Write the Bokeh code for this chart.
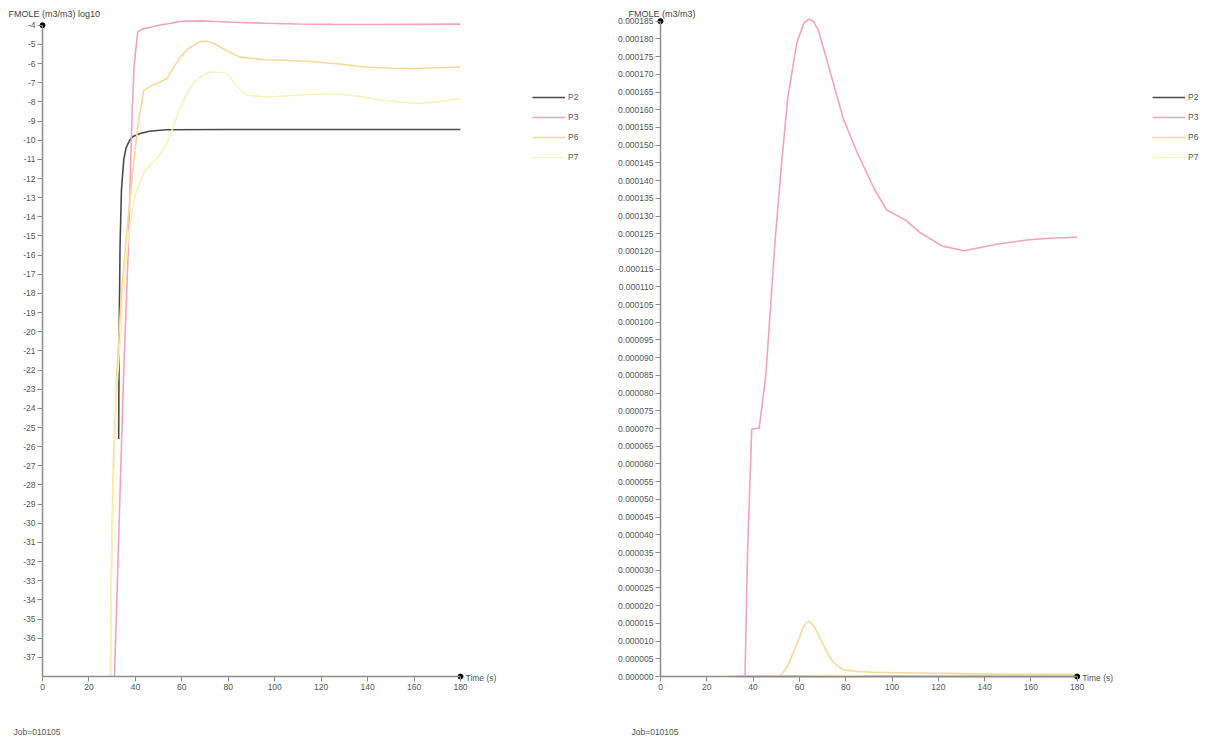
from bokeh.plotting import figure
from bokeh.layouts import row
from bokeh.models import (FixedTicker, PrintfTickFormatter, Legend, LegendItem,
                          Label, Range1d)
from bokeh.embed import file_html
from bokeh.resources import INLINE

# ---------------- data: left panel (log10) ----------------
x_ticks = [0, 20, 40, 60, 80, 100, 120, 140, 160, 180]
log_y_ticks = [-4, -5, -6, -7, -8, -9, -10, -11, -12, -13, -14, -15, -16, -17, -18, -19,
               -20, -21, -22, -23, -24, -25, -26, -27, -28, -29, -30, -31, -32, -33, -34,
               -35, -36, -37]
log_y_min = -38

t_p2_log = [32.8, 33.0, 33.4, 34.0, 35.0, 36.0, 37.5, 39.0, 42.0, 46.0, 53.0, 80.0, 120.0, 180.0]
p2_log = [-25.6, -20.0, -15.5, -12.6, -11.0, -10.4, -10.0, -9.8, -9.65, -9.53, -9.45, -9.44, -9.44, -9.44]

t_p3_log = [31.0, 33.0, 35.0, 37.0, 37.8, 38.6, 39.5, 41.0, 43.0, 46.5, 50.0, 54.0, 60.0, 68.0,
            75.0, 82.0, 96.0, 110.0, 125.0, 140.0, 160.0, 180.0]
p3_log = [-38.0, -30.0, -22.0, -15.5, -12.0, -8.5, -6.0, -4.36, -4.2, -4.1, -4.0, -3.92, -3.79, -3.77,
          -3.8, -3.84, -3.89, -3.93, -3.95, -3.96, -3.95, -3.94]

t_p6_log = [29.3, 29.6, 30.5, 32.0, 34.0, 36.5, 39.0, 41.0, 43.6, 47.0, 50.0, 53.6, 56.5, 59.3, 63.0,
            67.9, 71.0, 74.0, 79.0, 85.0, 96.0, 110.0, 118.0, 130.0, 139.0, 150.0, 161.0, 170.0, 180.0]
p6_log = [-38.0, -33.0, -27.0, -22.0, -18.0, -14.5, -11.5, -9.3, -7.4, -7.15, -7.0, -6.78, -6.2, -5.66,
          -5.2, -4.85, -4.83, -4.95, -5.3, -5.66, -5.8, -5.85, -5.92, -6.05, -6.18, -6.24, -6.26, -6.22, -6.18]

t_p7_log = [29.3, 29.6, 30.5, 32.0, 34.5, 37.0, 40.0, 44.0, 48.0, 51.0, 53.5, 56.4, 59.0, 62.1, 65.0,
            67.9, 72.1, 76.0, 79.3, 84.0, 87.9, 96.4, 110.0, 125.0, 136.0, 146.4, 160.7, 170.0, 180.0]
p7_log = [-38.0, -33.0, -28.0, -23.0, -18.5, -15.0, -12.8, -11.6, -11.1, -10.7, -10.2, -9.3, -8.4, -7.56,
          -7.0, -6.7, -6.44, -6.45, -6.52, -7.2, -7.65, -7.74, -7.65, -7.56, -7.7, -7.91, -8.08, -8.0, -7.82]

# ---------------- data: right panel (linear) ----------------
lin_y_ticks = [0.000185, 0.000180, 0.000175, 0.000170, 0.000165, 0.000160, 0.000155, 0.000150,
               0.000145, 0.000140, 0.000135, 0.000130, 0.000125, 0.000120, 0.000115, 0.000110,
               0.000105, 0.000100, 0.000095, 0.000090, 0.000085, 0.000080, 0.000075, 0.000070,
               0.000065, 0.000060, 0.000055, 0.000050, 0.000045, 0.000040, 0.000035, 0.000030,
               0.000025, 0.000020, 0.000015, 0.000010, 0.000005, 0.000000]
lin_y_min = 0.0

t_p2_lin = [32.8, 39.0, 53.0, 180.0]
p2_lin = [2.5e-26, 1.6e-10, 3.5e-10, 3.6e-10]

t_p3_lin = [36.5, 37.6, 39.4, 41.0, 42.6, 45.5, 49.5, 52.2, 54.9, 58.9, 62.0, 64.2, 66.0, 68.2, 73.6,
            78.9, 84.3, 92.3, 97.7, 105.7, 112.4, 121.8, 131.1, 145.8, 159.2, 170.0, 180.0]
p3_lin = [0.0, 3.5e-5, 6.98e-5, 7.0e-5, 7.0e-5, 8.5e-5, 1.23e-4, 1.44e-4, 1.63e-4, 1.79e-4, 1.845e-4,
          1.856e-4, 1.85e-4, 1.825e-4, 1.70e-4, 1.576e-4, 1.489e-4, 1.377e-4, 1.317e-4, 1.289e-4,
          1.252e-4, 1.215e-4, 1.202e-4, 1.221e-4, 1.233e-4, 1.238e-4, 1.240e-4]

t_p6_lin = [29.3, 50.0, 52.2, 55.0, 57.5, 60.0, 61.5, 63.0, 64.2, 66.0, 68.2, 71.0, 73.6, 76.0, 79.0,
            85.0, 92.0, 110.0, 130.0, 150.0, 180.0]
p6_lin = [0.0, 0.0, 5e-7, 3e-6, 6.9e-6, 1.1e-5, 1.37e-5, 1.52e-5, 1.56e-5, 1.45e-5, 1.18e-5, 8e-6,
          5e-6, 3.2e-6, 1.9e-6, 1.4e-6, 1.2e-6, 1.0e-6, 8e-7, 6e-7, 6.5e-7]

t_p7_lin = [29.3, 50.0, 56.4, 62.1, 67.9, 72.1, 79.3, 87.9, 110.0, 146.4, 180.0]
p7_lin = [0.0, 1.5e-11, 5e-10, 2.8e-8, 2.0e-7, 3.6e-7, 3.0e-7, 2.2e-8, 2.1e-8, 1.2e-8, 1.5e-8]

series_names = ["P2", "P3", "P6", "P7"]
series_colors = ["#4a4a4a", "#f2a3c0", "#f6d99a", "#f7f3b8"]

FONT = "Liberation Sans"
TXT = "#555555"
AXC = "#8c8c8c"
FS = "8.5px"
H = 738


def make_panel(width, ax_left_px, ax_right_px, ax_top_px, ax_bottom_px,
               y_lo_val, y_ticks, fmt, series, title, title_x, leg_x):
    # frame spans the whole figure; axes are pinned inside it with fixed_location
    x0, x1 = x_ticks[0], x_ticks[-1]
    y0, y1 = y_lo_val, y_ticks[0]
    sx = (ax_right_px - ax_left_px) / (x1 - x0)
    sy = (ax_bottom_px - ax_top_px) / (y1 - y0)
    xr = Range1d(x0 - ax_left_px / sx, x1 + (width - ax_right_px) / sx)
    yr = Range1d(y0 - (H - ax_bottom_px) / sy, y1 + ax_top_px / sy)

    p = figure(width=width, height=H, output_backend="svg", toolbar_location=None,
               x_range=xr, y_range=yr,
               min_border_left=0, min_border_right=0, min_border_top=0, min_border_bottom=0)
    p.grid.visible = False
    p.outline_line_color = None
    p.background_fill_color = "white"
    p.border_fill_color = "white"
    for ax in (p.xaxis[0], p.yaxis[0]):
        ax.axis_line_color = AXC
        ax.axis_line_width = 1.5
        ax.major_tick_line_color = AXC
        ax.major_tick_in = 0
        ax.major_tick_out = 5
        ax.minor_tick_line_color = None
        ax.major_label_text_font = FONT
        ax.major_label_text_font_size = FS
        ax.major_label_text_color = TXT
        ax.major_label_standoff = 2
    p.xaxis[0].ticker = FixedTicker(ticks=x_ticks)
    p.xaxis[0].formatter = PrintfTickFormatter(format="%d")
    p.xaxis[0].bounds = (x0, x1)
    p.xaxis[0].fixed_location = y0
    p.yaxis[0].ticker = FixedTicker(ticks=y_ticks)
    p.yaxis[0].formatter = PrintfTickFormatter(format=fmt)
    p.yaxis[0].bounds = (y0, y1)
    p.yaxis[0].fixed_location = x0

    items = []
    for (tx, vy), name, col in zip(series, series_names, series_colors):
        r = p.line(tx, vy, line_color=col, line_width=1.6)
        items.append(LegendItem(label=name, renderers=[r]))

    # axis end markers
    p.scatter([x0, x1], [y1, y0], size=5, color="black")

    leg = Legend(items=items, location=(leg_x, 571), orientation="vertical",
                 glyph_width=33, glyph_height=20, label_height=20, spacing=0,
                 padding=0, margin=0, border_line_alpha=0, background_fill_alpha=0,
                 label_text_font=FONT, label_text_font_size=FS, label_text_color=TXT,
                 label_standoff=3)
    p.add_layout(leg)

    p.add_layout(Label(x=title_x, y=H - 13, x_units="screen", y_units="screen", text=title,
                       text_font=FONT, text_font_size="9px", text_color="#444444",
                       text_baseline="middle"))
    p.add_layout(Label(x=ax_right_px + 5, y=H - ax_bottom_px - 1, x_units="screen",
                       y_units="screen", text="Time (s)",
                       text_font=FONT, text_font_size=FS, text_color=TXT,
                       text_baseline="middle"))
    p.add_layout(Label(x=ax_left_px - 29, y=7, x_units="screen", y_units="screen",
                       text="Job=010105",
                       text_font=FONT, text_font_size=FS, text_color=TXT,
                       text_baseline="middle"))
    return p


left = make_panel(600, 42, 460, 24.8, 676, log_y_min, log_y_ticks, "%d",
                  [(t_p2_log, p2_log), (t_p3_log, p3_log), (t_p6_log, p6_log), (t_p7_log, p7_log)],
                  "FMOLE (m3/m3) log10", 8, 532)
right = make_panel(607, 60, 476.7, 20.7, 676, lin_y_min, lin_y_ticks, "%.6f",
                   [(t_p2_lin, p2_lin), (t_p3_lin, p3_lin), (t_p6_lin, p6_lin), (t_p7_lin, p7_lin)],
                   "FMOLE (m3/m3)", 28, 552)

layout = row(left, right)
open("out.html", "w").write(file_html(layout, INLINE))
